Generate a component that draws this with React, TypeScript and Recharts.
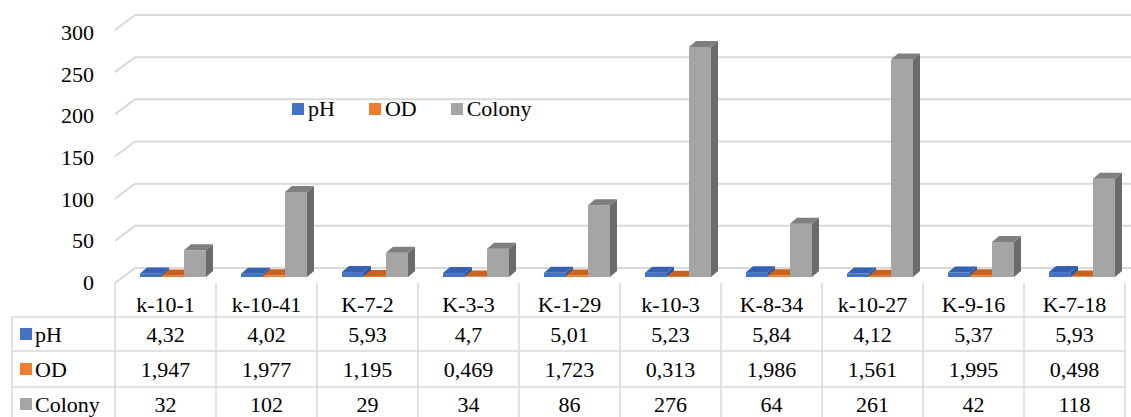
import { BarChart, Bar, XAxis, YAxis, CartesianGrid, Legend, Customized } from "recharts";

const categories = ["k-10-1", "k-10-41", "K-7-2", "K-3-3", "K-1-29", "k-10-3", "K-8-34", "k-10-27", "K-9-16", "K-7-18"];
const phValues = [4.32, 4.02, 5.93, 4.7, 5.01, 5.23, 5.84, 4.12, 5.37, 5.93];
const odValues = [1.947, 1.977, 1.195, 0.469, 1.723, 0.313, 1.986, 1.561, 1.995, 0.498];
const colonyValues = [32, 102, 29, 34, 86, 276, 64, 261, 42, 118];
const yTicks = [0, 50, 100, 150, 200, 250, 300];

const series = [
  { key: "pH", values: phValues, front: "#4472c4", side: "#2f5597", top: "#3561b0" },
  { key: "OD", values: odValues, front: "#ed7d31", side: "#b85a1c", top: "#c9621e" },
  { key: "Colony", values: colonyValues, front: "#a5a5a5", side: "#6b6b6b", top: "#7f7f7f" },
];

const data = categories.map((name, i) => ({
  name,
  pH: phValues[i],
  OD: odValues[i],
  Colony: colonyValues[i],
}));

const FONT = '"Liberation Serif", Tinos, "Noto Serif", "DejaVu Serif", FreeSerif, "Times New Roman", Times, serif';
const FS = 22;
const LINE = "#d9d9d9";
const ROW_BASE = [342, 377, 412];
const ROW_LINES = [317, 351, 387];

const fmt = (v: number) => String(v).replace(".", ",");

// 3d-ish column: front face + top + right side
function Column3D(props: any) {
  const { x, y, width, height, c } = props;
  if (width == null || height == null) return null;
  const dx = 7, depth = 7, rise = 6;
  const x0 = x + dx;
  const x1 = x0 + width;
  const yb = y + height;
  return (
    <g>
      <rect x={x0} y={y} width={width} height={height} fill={c.front} />
      <polygon points={`${x1},${y} ${x1 + depth},${y - rise} ${x1 + depth},${yb - rise} ${x1},${yb}`} fill={c.side} />
      <polygon points={`${x0},${y} ${x0 + depth},${y - rise} ${x1 + depth},${y - rise} ${x1},${y}`} fill={c.top} />
    </g>
  );
}

const gridLine = (props: any) => {
  const { y1, index } = props;
  const k = (y1 - 27) * 0.012;
  const yl = y1 + 3 + k;
  const yb = y1 - 12 + k;
  return (
    <g key={`grid-${index}`}>
      <line x1={115} y1={yl} x2={135} y2={yb} stroke={LINE} strokeWidth={2} />
      <line x1={135} y1={yb} x2={1131} y2={yb} stroke={LINE} strokeWidth={2} />
    </g>
  );
};

const YTick = (props: any) => {
  const { y, payload } = props;
  return (
    <text x={94} y={y + 13} textAnchor="end" style={{ fontFamily: FONT, fontSize: FS }} fill="#000">
      {payload.value}
    </text>
  );
};

// header cell + data-table column under each category
const TableTick = (props: any) => {
  const { x, payload, index } = props;
  const half = payload.offset || 50.5;
  return (
    <g>
      <line x1={x - half} y1={283} x2={x - half} y2={417} stroke={LINE} strokeWidth={1.5} />
      {index === categories.length - 1 && (
        <line x1={x + half} y1={283} x2={x + half} y2={417} stroke={LINE} strokeWidth={1.5} />
      )}
      <text x={x} y={312} textAnchor="middle" style={{ fontFamily: FONT, fontSize: FS }} fill="#000">
        {payload.value}
      </text>
      {series.map((s, r) => (
        <text key={s.key} x={x} y={ROW_BASE[r]} textAnchor="middle" style={{ fontFamily: FONT, fontSize: FS }} fill="#000">
          {fmt(s.values[payload.index ?? index])}
        </text>
      ))}
    </g>
  );
};

const TableFrame = () => (
  <g>
    {ROW_LINES.map((ly) => (
      <line key={ly} x1={12} y1={ly} x2={1125} y2={ly} stroke={LINE} strokeWidth={1.5} />
    ))}
    <line x1={12} y1={317} x2={12} y2={417} stroke={LINE} strokeWidth={1.5} />
    {series.map((s, r) => (
      <g key={s.key}>
        <rect x={20} y={ROW_BASE[r] - 14} width={12} height={12} fill={s.front} />
        <text x={35} y={ROW_BASE[r]} style={{ fontFamily: FONT, fontSize: FS }} fill="#000">
          {s.key}
        </text>
      </g>
    ))}
  </g>
);

const LegendBox = () => (
  <div style={{ display: "flex", alignItems: "center", fontFamily: FONT, fontSize: FS, color: "#000", lineHeight: "24px" }}>
    {series.map((s) => (
      <div key={s.key} style={{ display: "flex", alignItems: "center", marginRight: 34 }}>
        <span style={{ display: "inline-block", width: 12, height: 12, background: s.front, marginRight: 4 }} />
        <span>{s.key}</span>
      </div>
    ))}
  </div>
);

export default function App() {
  return (
    <div style={{ position: "absolute", left: 0, top: 0, background: "#fff" }}>
      <BarChart
        width={1131}
        height={417}
        data={data}
        margin={{ top: 27, right: 6, left: 0, bottom: 0 }}
        barSize={22}
        barGap={0}
      >
        <CartesianGrid vertical={false} horizontal={gridLine} />
        <YAxis
          domain={[0, 300]}
          ticks={yTicks}
          width={115}
          axisLine={false}
          tickLine={false}
          tick={<YTick />}
        />
        <XAxis
          dataKey="name"
          height={140}
          interval={0}
          axisLine={false}
          tickLine={false}
          tick={<TableTick />}
        />
        <Legend
          layout="horizontal"
          verticalAlign="middle"
          content={<LegendBox />}
          wrapperStyle={{ position: "absolute", left: 292, top: 97, width: 300 }}
        />
        {series.map((s) => (
          <Bar
            key={s.key}
            dataKey={s.key}
            isAnimationActive={false}
            shape={(p: any) => <Column3D {...p} c={s} />}
          />
        ))}
        <Customized component={TableFrame} />
      </BarChart>
    </div>
  );
}
